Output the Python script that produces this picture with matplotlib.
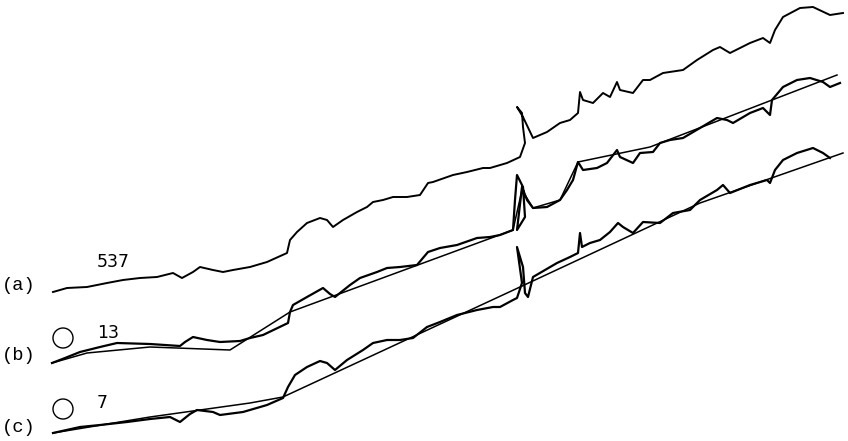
import numpy as np
import matplotlib
matplotlib.use("Agg")
import matplotlib.pyplot as plt
from matplotlib.patches import Circle

# traces, in picture pixels (x right, y down)
a_x = [53, 67, 87, 107, 123, 140, 157, 173, 182, 193, 200, 213, 223, 233, 250, 267, 287, 290, 297, 307,
       320, 327, 333, 343, 357, 367, 373, 383, 393, 407, 420, 428, 433, 453, 467, 483, 490, 507, 520, 525,
       523, 522, 517, 523, 533, 547, 560, 570, 578, 580, 583, 593, 603, 610, 617, 620, 633, 643, 650, 663,
       683, 697, 713, 720, 730, 750, 763, 770, 775, 783, 800, 813, 830, 843]
a_y = [292, 288, 287, 283, 280, 278, 277, 273, 278, 272, 267, 270, 272, 270, 267, 262, 253, 240, 232, 223,
       218, 220, 227, 220, 212, 207, 202, 200, 197, 197, 195, 183, 182, 175, 172, 168, 168, 163, 157, 143,
       127, 113, 107, 117, 138, 132, 123, 120, 113, 92, 100, 103, 93, 97, 82, 90, 93, 80, 80, 73,
       70, 60, 50, 47, 53, 43, 38, 43, 30, 17, 8, 7, 15, 13]

b_x = [52, 65, 80, 100, 117, 150, 180, 185, 193, 207, 220, 240, 250, 263, 288, 290, 293, 307, 323, 330,
       335, 350, 360, 377, 387, 400, 417, 428, 440, 457, 477, 490, 500, 513, 515, 517, 523, 525, 517, 522,
       527, 533, 547, 560, 567, 573, 578, 583, 597, 607, 617, 620, 633, 640, 653, 660, 670, 683, 700, 717,
       727, 733, 750, 763, 770, 772, 783, 797, 810, 823, 830, 840]
b_y = [363, 358, 352, 347, 343, 344, 346, 342, 337, 340, 342, 341, 338, 335, 323, 312, 305, 297, 288, 294,
       297, 285, 278, 272, 268, 267, 265, 252, 248, 245, 238, 237, 235, 230, 200, 175, 187, 217, 230, 187,
       200, 208, 207, 200, 190, 180, 162, 170, 168, 163, 150, 157, 163, 153, 152, 143, 140, 138, 128, 118,
       120, 123, 113, 108, 115, 100, 87, 80, 78, 82, 87, 83]
b_fit_x = [52, 87, 150, 230, 290, 513, 522, 533, 560, 578, 650, 837]
b_fit_y = [363, 353, 347, 350, 312, 230, 190, 208, 200, 162, 147, 75]

c_x = [53, 80, 100, 127, 150, 170, 180, 190, 197, 213, 220, 243, 267, 283, 288, 295, 307, 320, 327, 335,
       347, 363, 373, 387, 400, 413, 427, 440, 457, 477, 493, 500, 513, 517, 522, 517, 523, 525, 528, 533,
       557, 570, 578, 580, 582, 590, 600, 610, 618, 623, 633, 643, 660, 673, 690, 700, 717, 723, 730, 750,
       767, 770, 775, 783, 797, 813, 823, 830]
c_y = [433, 427, 425, 422, 419, 417, 422, 414, 410, 412, 415, 412, 405, 398, 387, 375, 367, 361, 363, 370,
       360, 350, 343, 340, 340, 338, 327, 322, 315, 310, 307, 307, 300, 298, 283, 247, 267, 293, 297, 277,
       263, 257, 253, 233, 247, 243, 240, 232, 223, 227, 233, 222, 223, 213, 210, 200, 190, 185, 193, 185,
       180, 183, 170, 160, 153, 148, 153, 158]
c_fit_x = [53, 150, 250, 283, 520, 700, 843]
c_fit_y = [433, 417, 403, 397, 287, 203, 153]

labels = ["(a)", "(b)", "(c)"]
label_y = [285, 356, 427]
counts = ["537", "13", "7"]
count_y = [262, 333, 403]

fig = plt.figure(figsize=(8.48, 4.41), dpi=100)
ax = fig.add_axes([0, 0, 1, 1])
ax.set_xlim(0, 848)
ax.set_ylim(441, 0)
ax.axis("off")

ax.plot(a_x, a_y, color="black", lw=1.4)
ax.plot(b_x, b_y, color="black", lw=1.6)
ax.plot(b_fit_x, b_fit_y, color="black", lw=1.1)
ax.plot(c_x, c_y, color="black", lw=1.6)
ax.plot(c_fit_x, c_fit_y, color="black", lw=1.1)

for lab, y in zip(labels, label_y):
    ax.text(2, y, lab, family="Liberation Mono", fontsize=13.5, va="center", ha="left")
for cnt, y in zip(counts, count_y):
    ax.text(97, y, cnt, family="DejaVu Sans", fontsize=12.5, va="center", ha="left")

# little open circles in front of (b) and (c)
for y in [338, 409]:
    ax.add_patch(Circle((63, y), 10, fill=False, ec="black", lw=1.0))

fig.savefig("out.png", dpi=100)
